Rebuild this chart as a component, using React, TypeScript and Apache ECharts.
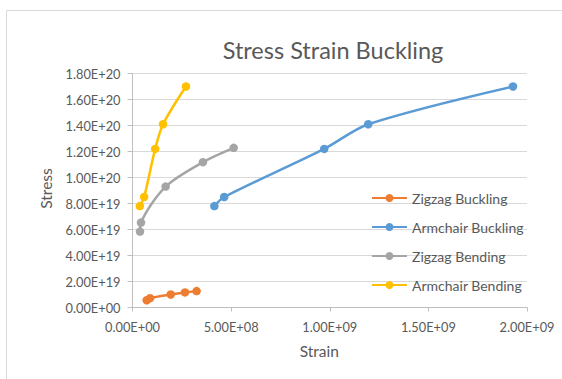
import React, { useEffect, useRef } from "react";
import * as echarts from "echarts";

const seriesNames = ["Zigzag Buckling", "Armchair Buckling", "Zigzag Bending", "Armchair Bending"];
const seriesColors = ["#ED7D31", "#5B9BD5", "#A5A5A5", "#FFC000"];

const zigzagBucklingStrain = [7.2e7, 8.9e7, 1.94e8, 2.66e8, 3.25e8];
const zigzagBucklingStress = [5.6e18, 7.2e18, 1.0e19, 1.16e19, 1.26e19];

const armchairBucklingStrain = [4.15e8, 4.65e8, 9.72e8, 1.195e9, 1.929e9];
const armchairBucklingStress = [7.8e19, 8.5e19, 1.22e20, 1.41e20, 1.7e20];

const zigzagBendingStrain = [3.8e7, 4.3e7, 1.68e8, 3.57e8, 5.13e8];
const zigzagBendingStress = [5.84e19, 6.53e19, 9.3e19, 1.118e20, 1.228e20];

const armchairBendingStrain = [3.7e7, 5.9e7, 1.15e8, 1.55e8, 2.71e8];
const armchairBendingStress = [7.8e19, 8.5e19, 1.22e20, 1.41e20, 1.7e20];

const xTicks = { min: 0, max: 2e9, interval: 5e8 };
const yTicks = { min: 0, max: 1.8e20, interval: 2e19 };

const titleText = "Stress Strain Buckling";
const xName = "Strain";
const yName = "Stress";

function sci(v: number): string {
  if (v === 0) return "0.00E+00";
  const exp = Math.floor(Math.log10(Math.abs(v)) + 1e-9);
  const mant = v / Math.pow(10, exp);
  const sign = exp < 0 ? "-" : "+";
  const e = String(Math.abs(exp)).padStart(2, "0");
  return mant.toFixed(2) + "E" + sign + e;
}

function zip(xs: number[], ys: number[]) {
  return xs.map((x, i) => [x, ys[i]]);
}

const FONT = "Lato";
const TEXT = "#595959";

export default function App() {
  const ref = useRef<HTMLDivElement>(null);
  useEffect(() => {
    if (!ref.current) return;
    const chart = echarts.init(ref.current, undefined, { renderer: "svg" });
    const data = [
      zip(zigzagBucklingStrain, zigzagBucklingStress),
      zip(armchairBucklingStrain, armchairBucklingStress),
      zip(zigzagBendingStrain, zigzagBendingStress),
      zip(armchairBendingStrain, armchairBendingStress),
    ];
    chart.setOption({
      animation: false,
      backgroundColor: "#ffffff",
      title: {
        text: titleText,
        left: 328,
        top: 33,
        textAlign: "center",
        textStyle: { fontFamily: FONT, fontSize: 23.5, fontWeight: "normal", color: TEXT },
      },
      graphic: [
        {
          type: "rect",
          shape: { x: 6.5, y: 10.5, width: 620, height: 420 },
          style: { fill: "none", stroke: "#d9d9d9", lineWidth: 1 },
          silent: true,
          z: -10,
        },
      ],
      legend: {
        orient: "vertical",
        left: 366,
        top: 186,
        itemWidth: 35,
        itemHeight: 10,
        itemGap: 15,
        data: seriesNames,
        textStyle: { fontFamily: FONT, fontSize: 14, color: TEXT },
      },
      grid: { left: 132.5, right: 35, top: 73.5, bottom: 71.5, containLabel: false },
      xAxis: {
        type: "value",
        min: xTicks.min,
        max: xTicks.max,
        interval: xTicks.interval,
        name: xName,
        nameLocation: "middle",
        nameGap: 35,
        nameTextStyle: { fontFamily: FONT, fontSize: 15.5, color: TEXT, padding: [0, 21, 0, 0] },
        axisLine: { show: true, lineStyle: { color: "#bfbfbf" } },
        axisTick: { show: true, length: 4, lineStyle: { color: "#bfbfbf" } },
        axisLabel: { formatter: sci, fontFamily: FONT, fontSize: 12.8, color: TEXT, margin: 13 },
        splitLine: { show: false },
      },
      yAxis: {
        type: "value",
        min: yTicks.min,
        max: yTicks.max,
        interval: yTicks.interval,
        name: yName,
        nameLocation: "middle",
        nameGap: 79,
        nameTextStyle: { fontFamily: FONT, fontSize: 15.5, color: TEXT, padding: [0, 0, 0, 4] },
        axisLine: { show: true, lineStyle: { color: "#bfbfbf" } },
        axisTick: { show: true, length: 5, lineStyle: { color: "#bfbfbf" } },
        axisLabel: { formatter: sci, fontFamily: FONT, fontSize: 12.8, color: TEXT, margin: 12 },
        splitLine: { show: true, lineStyle: { color: "#d9d9d9", width: 1 } },
      },
      series: seriesNames.map((name, i) => ({
        name,
        type: "line",
        data: data[i],
        smooth: 0.3,
        symbol: "circle",
        symbolSize: 8.5,
        color: seriesColors[i],
        lineStyle: { width: 2.5, color: seriesColors[i] },
        itemStyle: { color: seriesColors[i] },
      })),
    });
    return () => chart.dispose();
  }, []);
  return (
    <div
      ref={ref}
      style={{ position: "fixed", left: 0, top: 0, width: 562, height: 379, background: "#fff" }}
    />
  );
}
